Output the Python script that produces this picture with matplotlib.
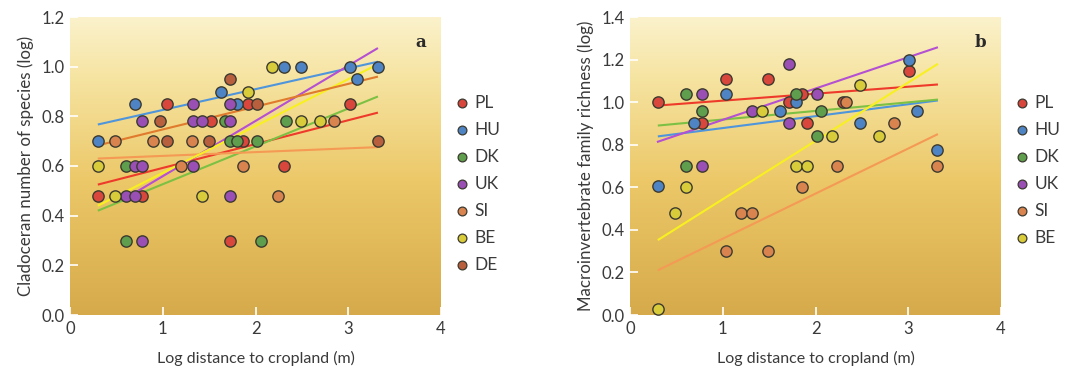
import numpy as np
import matplotlib
matplotlib.use("Agg")
import matplotlib.pyplot as plt
from matplotlib.colors import LinearSegmentedColormap

plt.rcParams['font.family'] = ['Lato', 'DejaVu Sans']

countries_a = ["PL", "HU", "DK", "UK", "SI", "BE", "DE"]
countries_b = ["PL", "HU", "DK", "UK", "SI", "BE"]

point_colors = {"PL": "#d8463c", "HU": "#4f84c4", "DK": "#5e9e4c", "UK": "#9a4fb4",
                "SI": "#d9844f", "BE": "#d8cc3a", "DE": "#b8603e"}
line_colors = {"PL": "#ee3a2a", "HU": "#4f95dc", "DK": "#7cc044", "UK": "#b450d2",
               "SI": "#f49a55", "BE": "#f8f020", "DE": "#e07a2c"}

# Panel a: Cladoceran number of species (log)
a_x = {
    "PL": [0.30, 0.78, 1.05, 1.52, 1.86, 1.92, 2.31, 1.72, 3.02],
    "HU": [0.30, 0.70, 1.63, 1.80, 2.31, 2.49, 3.02, 3.09, 3.32],
    "DK": [0.60, 0.60, 1.67, 1.72, 1.80, 2.02, 2.33, 2.06],
    "UK": [0.60, 0.70, 0.70, 0.78, 0.78, 0.78, 1.33, 1.33, 1.33, 1.42, 1.72, 1.72, 1.72],
    "SI": [0.48, 0.90, 1.20, 1.86, 2.24, 2.85, 1.32],
    "BE": [0.30, 0.48, 1.42, 1.92, 2.18, 2.49, 2.70],
    "DE": [0.97, 1.05, 1.50, 1.72, 2.02, 3.32],
}
a_y = {
    "PL": [0.48, 0.48, 0.85, 0.78, 0.70, 0.85, 0.60, 0.30, 0.85],
    "HU": [0.70, 0.85, 0.90, 0.85, 1.00, 1.00, 1.00, 0.95, 1.00],
    "DK": [0.60, 0.30, 0.78, 0.70, 0.70, 0.70, 0.78, 0.30],
    "UK": [0.48, 0.48, 0.60, 0.60, 0.78, 0.30, 0.85, 0.78, 0.60, 0.78, 0.85, 0.78, 0.48],
    "SI": [0.70, 0.70, 0.60, 0.60, 0.48, 0.78, 0.70],
    "BE": [0.60, 0.48, 0.48, 0.90, 1.00, 0.78, 0.78],
    "DE": [0.78, 0.70, 0.70, 0.95, 0.85, 0.70],
}
a_fit_x = {"PL": [0.30, 3.32], "HU": [0.30, 3.32], "DK": [0.30, 3.32], "UK": [0.60, 3.32],
           "SI": [0.30, 3.32], "BE": [0.30, 3.32], "DE": [0.30, 3.32]}
a_fit_y = {"PL": [0.525, 0.815], "HU": [0.767, 1.02], "DK": [0.42, 0.88], "UK": [0.47, 1.075],
           "SI": [0.63, 0.676], "BE": [0.44, 1.01], "DE": [0.683, 0.96]}

# Panel b: Macroinvertebrate family richness (log)
b_x = {
    "PL": [0.30, 0.78, 1.04, 1.49, 1.71, 1.85, 1.91, 2.30, 3.01],
    "HU": [0.30, 0.69, 1.04, 1.62, 1.79, 2.48, 3.01, 3.09, 3.31],
    "DK": [0.60, 0.60, 0.78, 1.79, 2.02, 2.06],
    "UK": [0.78, 0.78, 1.32, 1.71, 1.71, 2.02],
    "SI": [1.04, 1.20, 1.32, 1.49, 1.85, 2.23, 2.33, 2.85, 3.31],
    "BE": [0.30, 0.48, 0.60, 1.42, 1.79, 1.91, 2.18, 2.48, 2.68],
}
b_y = {
    "PL": [1.00, 0.90, 1.11, 1.11, 1.00, 1.04, 0.90, 1.00, 1.145],
    "HU": [0.605, 0.90, 1.04, 0.96, 1.00, 0.90, 1.20, 0.96, 0.777],
    "DK": [1.04, 0.70, 0.96, 1.04, 0.84, 0.96],
    "UK": [1.04, 0.70, 0.96, 1.18, 0.90, 1.04],
    "SI": [0.30, 0.477, 0.477, 0.30, 0.60, 0.70, 1.00, 0.90, 0.70],
    "BE": [0.027, 0.477, 0.60, 0.96, 0.70, 0.70, 0.84, 1.08, 0.84],
}
b_fit_x = {"PL": [0.30, 3.32], "HU": [0.30, 3.32], "DK": [0.30, 3.32], "UK": [0.29, 3.32],
           "SI": [0.30, 3.32], "BE": [0.30, 3.32]}
b_fit_y = {"PL": [0.984, 1.083], "HU": [0.839, 1.008], "DK": [0.89, 1.012], "UK": [0.8125, 1.258],
           "SI": [0.21, 0.85], "BE": [0.352, 1.18]}

panels = [
    dict(letter="a", countries=countries_a, xs=a_x, ys=a_y, fx=a_fit_x, fy=a_fit_y,
         ylim=1.2, yticks=[0.0, 0.2, 0.4, 0.6, 0.8, 1.0, 1.2],
         ylabel="Cladoceran number of species (log)"),
    dict(letter="b", countries=countries_b, xs=b_x, ys=b_y, fx=b_fit_x, fy=b_fit_y,
         ylim=1.4, yticks=[0.0, 0.2, 0.4, 0.6, 0.8, 1.0, 1.2, 1.4],
         ylabel="Macroinvertebrate family richness (log)"),
]

fig = plt.figure(figsize=(10.70, 3.73), dpi=100)
fig.patch.set_facecolor("white")
lefts = [70 / 1070, 630 / 1070]
width = 371 / 1070
bottom = (373 - 315) / 373
height = 298 / 373

bg_cmap = LinearSegmentedColormap.from_list(
    "bg", [(0.0, "#d6aa4a"), (0.45, "#ecc868"), (0.8, "#f6e4a2"), (1.0, "#fbf2cc")])

for p, left in zip(panels, lefts):
    ax = fig.add_axes([left, bottom, width, height])
    grad = np.linspace(0, 1, 256).reshape(-1, 1)
    ax.imshow(grad, aspect="auto", cmap=bg_cmap, origin="lower",
              extent=[0, 4, 0, p["ylim"]], zorder=0)
    ax.set_xlim(0, 4)
    ax.set_ylim(0, p["ylim"])
    for s in ax.spines.values():
        s.set_visible(False)
    ax.set_xticks([0, 1, 2, 3, 4])
    ax.set_yticks(p["yticks"])
    ax.set_yticklabels([f"{v:.1f}" for v in p["yticks"]])
    ax.tick_params(direction="in", color="white", length=6, width=1.2,
                   labelsize=12, labelcolor="#3a3a3a", pad=4)
    ax.set_xlabel("Log distance to cropland (m)", fontsize=11.5, color="#3a3a3a", labelpad=10)
    ax.set_ylabel(p["ylabel"], fontsize=12.2, color="#3a3a3a", labelpad=5)

    for c in p["countries"]:
        ax.plot(p["fx"][c], p["fy"][c], color=line_colors[c], lw=1.5, zorder=2,
                solid_capstyle="butt")
    for c in p["countries"]:
        ax.scatter(p["xs"][c], p["ys"][c], s=66, color=point_colors[c],
                   edgecolors="#3c3a30", linewidths=1.0, zorder=3, clip_on=False)
    ax.text(3.78, p["ylim"] * 0.915, p["letter"], fontsize=12, fontweight="bold",
            family="DejaVu Serif", color="#2a2a2a", ha="center", va="center")

    # legend outside the plot
    for i, c in enumerate(p["countries"]):
        ty = p["ylim"] * (1 - (103 + 27 * i - 17) / 298)
        ax.scatter([4.23], [ty], s=40, color=point_colors[c], edgecolors="#3c3a30",
                   linewidths=0.9, clip_on=False, zorder=3)
        ax.text(4.36, ty, c, fontsize=12.5, color="#3a3a3a", va="center", ha="left",
                clip_on=False)

fig.savefig("out.png", dpi=100, facecolor="white")
